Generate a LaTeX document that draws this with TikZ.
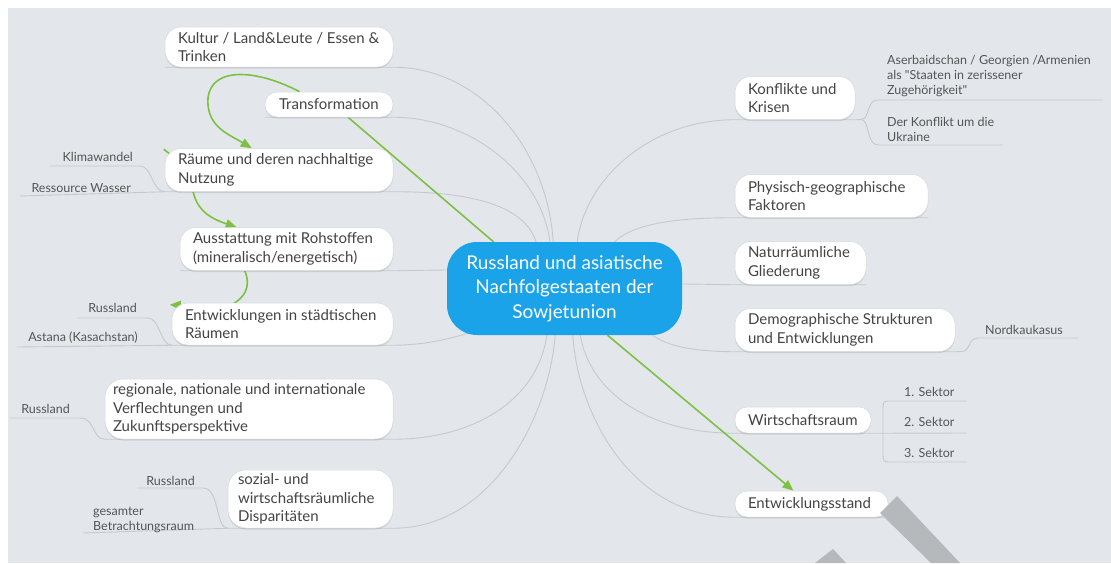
\documentclass[tikz,border=0pt]{standalone}
\usepackage{fontspec}
\setmainfont{Lato}
\usetikzlibrary{arrows.meta,shadows,calc}
\definecolor{bgc}{HTML}{E3E7EB}
\definecolor{linec}{HTML}{C5CACF}
\definecolor{greenc}{HTML}{7CC142}
\definecolor{txtc}{HTML}{444444}
\definecolor{subc}{HTML}{555555}
\definecolor{bluec}{HTML}{1AA3E9}
\definecolor{boxline}{HTML}{D5D9DD}
\definecolor{wm}{HTML}{B5B9BC}
\pgfdeclarelayer{back}
\pgfsetlayers{back,main}
\tikzset{
  mbox/.style={draw=boxline, line width=0.5pt, fill=white, rounded corners=16pt,
    inner xsep=13pt, inner ysep=0pt, align=flush left, text=txtc,
    font=\fontsize{15}{18.5}\selectfont,
    drop shadow={opacity=0.22, shadow xshift=0pt, shadow yshift=-1.5pt}},
  sbox/.style={mbox, rounded corners=12pt},
  lbl/.style={inner sep=0pt, text=subc, font=\fontsize{12.5}{15}\selectfont, align=flush left},
  conn/.style={draw=linec, line width=0.9pt},
  gline/.style={draw=greenc, line width=1.6pt},
  garrow/.style={gline, -{Triangle[length=11pt,width=9pt]}},
}
\begin{document}
\begin{tikzpicture}[x=1pt,y=-1pt]
\useasboundingbox (0,0) rectangle (1111,563);

% central node
\node[fill=bluec, rounded corners=30pt, minimum width=235pt, minimum height=93pt,
  inner sep=0pt, align=center, text=white, font=\fontsize{19}{24.5}\selectfont]
  (ctr) at (564.5,288.5) {Russland und asiatische\\Nachfolgestaaten der\\Sowjetunion};

% left main nodes
\node[mbox, minimum height=40pt, text width=202pt] (kultur) at (279,47) {Kultur / Land\&Leute / Essen \&\\Trinken};
\node[sbox, minimum height=25pt, text width=100pt, inner xsep=14pt] (trans) at (329,104.5) {Transformation};
\node[mbox, minimum height=43pt, text width=202pt] (raeume) at (279,170) {Räume und deren nachhaltige\\Nutzung};
\node[mbox, minimum height=43pt, text width=187pt] (aus) at (286.5,249) {Ausstattung mit Rohstoffen\\(mineralisch/energetisch)};
\node[mbox, minimum height=42pt, text width=195pt] (stadt) at (282.5,324) {Entwicklungen in städtischen\\Räumen};
\node[mbox, rounded corners=18pt, minimum height=60pt, text width=272pt, inner xsep=8pt] (regio) at (249,409) {regionale, nationale und internationale\\Verflechtungen und\\Zukunftsperspektive};
\node[mbox, rounded corners=18pt, minimum height=58pt, text width=145pt, inner xsep=10pt] (sozial) at (310.5,499) {sozial- und\\wirtschaftsräumliche\\Disparitäten};

% right main nodes
\node[mbox, minimum height=43pt, text width=94pt] (konf) at (795,98) {Konflikte und\\Krisen};
\node[mbox, minimum height=43pt, text width=167pt] (phys) at (831.5,196) {Physisch-geographische\\Faktoren};
\node[mbox, minimum height=43pt, text width=105pt] (natur) at (800.5,263) {Naturräumliche\\Gliederung};
\node[mbox, minimum height=43pt, text width=194pt] (demo) at (845,330) {Demographische Strukturen\\und Entwicklungen};
\node[sbox, minimum height=26pt, text width=110pt] (wirt) at (803,420) {Wirtschaftsraum};
\node[sbox, minimum height=26pt, text width=127pt] (entw) at (811.5,504) {Entwicklungsstand};

% sub labels left
\node[lbl, anchor=base east] (klima) at (133,161) {Klimawandel};
\node[lbl, anchor=base east] (wasser) at (131,192) {Ressource Wasser};
\node[lbl, anchor=base east] (russ1) at (137,312) {Russland};
\node[lbl, anchor=base east] (astana) at (138,341) {Astana (Kasachstan)};
\node[lbl, anchor=base east] (russ2) at (70,413) {Russland};
\node[lbl, anchor=base east] (russ3) at (195,485) {Russland};
\node[lbl, anchor=west] (gesamt) at (93,519.5) {gesamter\\Betrachtungsraum};

% sub labels right
\node[lbl, anchor=west] (aser) at (887,76) {Aserbaidschan / Georgien /Armenien\\als \textquotedbl Staaten in zerissener\\Zugehörigkeit\textquotedbl};
\node[lbl, anchor=west] (ukr) at (887,129) {Der Konflikt um die\\Ukraine};
\node[lbl, anchor=base west] (nord) at (985,334) {Nordkaukasus};
\node[lbl, anchor=base west] (s1) at (904,396) {1. Sektor};
\node[lbl, anchor=base west] (s2) at (904,426) {2. Sektor};
\node[lbl, anchor=base west] (s3) at (904,457) {3. Sektor};

\begin{pgfonlayer}{back}
  \fill[white] (0,0) rectangle (1111,563);
  \fill[bgc] (8,8) rectangle (1111,563);

  % main connectors, left
  \draw[conn] (kultur.south west) -- (kultur.south east) .. controls (480,67) and (550,150) .. ($(ctr.north)+(-11,6)$);
  \draw[conn] (trans.south west) -- (trans.south east) .. controls (470,117) and (545,175) .. ($(ctr.north)+(-14,6)$);
  \draw[conn] (raeume.south west) -- (raeume.south east) .. controls (470,191.5) and (530,205) .. ($(ctr.north)+(-27,6)$);
  \draw[conn] (aus.south west) -- (aus.south east) .. controls (420,270.5) and (430,270) .. ($(ctr.west)+(6,-18.5)$);
  \draw[conn] (stadt.south west) -- (stadt.south east) .. controls (430,345) and (455,337) .. ($(ctr.south west)+(32,-5)$);
  \draw[conn] (regio.south west) -- (regio.south east) .. controls (480,439) and (542,395) .. ($(ctr.south)+(-17,-6)$);
  \draw[conn] (sozial.south west) -- (sozial.south east) .. controls (495,528) and (552,410) .. ($(ctr.south)+(-9,-6)$);

  % main connectors, right
  \draw[conn] (konf.south east) -- (konf.south west) .. controls (650,119.5) and (582,180) .. ($(ctr.north)+(12,6)$);
  \draw[conn] (phys.south east) -- (phys.south west) .. controls (670,217.5) and (625,225) .. ($(ctr.north)+(45,6)$);
  \draw[conn] (natur.south east) -- (natur.south west) .. controls (710,284.5) and (700,284) .. ($(ctr.east)+(-6,-4.5)$);
  \draw[conn] (demo.south east) -- (demo.south west) .. controls (690,351.5) and (660,345) .. ($(ctr.south east)+(-35,-5)$);
  \draw[conn] (wirt.south east) -- (wirt.south west) .. controls (640,433) and (585,385) .. ($(ctr.south)+(15,-6)$);
  \draw[conn] (entw.south east) -- (entw.south west) .. controls (630,517) and (575,410) .. ($(ctr.south)+(8,-6)$);

  % sub connectors left
  \coordinate (klimaL) at (50,166);
  \coordinate (klimaR) at (140,166);
  \draw[conn] (klimaL) -- (klimaR) .. controls (152,166) and (152,191.5) .. (raeume.south west);
  \coordinate (wasserL) at (20,196);
  \draw[conn] (wasserL) -- (raeume.south west);
  \coordinate (russ1L) at (77,318);
  \coordinate (russ1R) at (148,318);
  \draw[conn] (russ1L) -- (russ1R) .. controls (160,318) and (160,345) .. (stadt.south west);
  \coordinate (astanaL) at (17,347);
  \draw[conn] (astanaL) -- (stadt.south west);
  \coordinate (russ2L) at (10,418);
  \coordinate (russ2R) at (80,418);
  \draw[conn] (russ2L) -- (russ2R) .. controls (95,418) and (92,439) .. (regio.south west);
  \coordinate (russ3L) at (137,488);
  \coordinate (russ3R) at (203,488);
  \draw[conn] (russ3L) -- (russ3R) .. controls (220,488) and (215,528) .. (sozial.south west);
  \coordinate (gesamtL) at (83,533);
  \draw[conn] (gesamtL) -- (sozial.south west);

  % sub connectors right
  \coordinate (kstem) at (861,119.5);
  \coordinate (aserR) at (1102,100);
  \coordinate (ukrR) at (1003,145);
  \draw[conn] (konf.south east) -- (kstem) .. controls (870,119.5) and (866,100) .. (878,100) -- (aserR);
  \draw[conn] (kstem) .. controls (870,119.5) and (866,145) .. (878,145) -- (ukrR);
  \coordinate (nordR) at (1078,338);
  \draw[conn] (demo.south east) -- (962,351.5) .. controls (970,351.5) and (968,338) .. (978,338) -- (nordR);
  \coordinate (s2R) at (967,433);
  \coordinate (s1R) at (967,401);
  \coordinate (s3R) at (967,462);
  \draw[conn] (wirt.south east) -- (s2R);
  \draw[conn] (883,433) -- (883,410) .. controls (883,401) .. (892,401) -- (s1R);
  \draw[conn] (883,433) -- (883,453) .. controls (883,462) .. (892,462) -- (s3R);

  % green cross connections
  \draw[gline] ($(trans.south)+(19,0)$) -- ($(ctr.north)+(-71,0)$);
  \draw[garrow] ($(ctr.south)+(43,0)$) -- ($(entw.north)+(-18,0)$);
  \draw[garrow] ($(trans.north west)+(35,0)$) .. controls (250,66) and (205,68) .. (208,105)
     .. controls (210,128) and (230,135) .. ($(raeume.north west)+(87,0)$);
  \draw[garrow] ($(raeume.north west)+(-1,1)$) .. controls (185,165) and (190,180) .. (194,195)
     .. controls (199,212) and (212,219) .. ($(aus.north west)+(57,0)$);
  \draw[garrow] ($(aus.south west)+(65,0)$) .. controls (252,288) and (243,298) .. (233,304)
     .. controls (215,312) and (195,306) .. ($(stadt.north west)+(-2,2)$);
\end{pgfonlayer}

% watermark strokes
\fill[wm] (880,513) -- (897,496) -- (960,563) -- (931,563) -- cycle;
\fill[wm] (815,563) -- (833,549) -- (846,563) -- cycle;
\end{tikzpicture}
\end{document}
